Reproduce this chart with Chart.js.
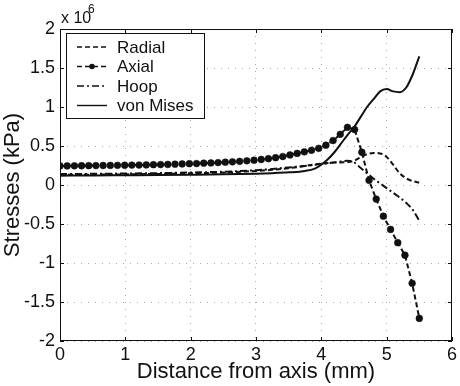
<!DOCTYPE html>
<html>
<head>
<meta charset="utf-8">
<script src="https://cdn.jsdelivr.net/npm/chart.js@4.4.1/dist/chart.umd.min.js"></script>
<style>
  html, body { margin: 0; padding: 0; background: #fff; }
  #wrap { width: 460px; height: 386px; position: relative; }
</style>
</head>
<body>
<div id="wrap"><canvas id="chartTegangan"></canvas></div>
<script>
// ===== DATA (stresses in units of 10^6 kPa) =====
const seriesLabels = ["Radial", "Axial", "Hoop", "von Mises"];
const xTicks = [0, 1, 2, 3, 4, 5, 6];
const yTicks = [-2, -1.5, -1, -0.5, 0, 0.5, 1, 1.5, 2];

const axialX = [0, 0.11, 0.22, 0.33, 0.44, 0.55, 0.66, 0.77, 0.88, 0.99,
  1.1, 1.21, 1.32, 1.43, 1.54, 1.65, 1.76, 1.87, 1.98, 2.09,
  2.2, 2.31, 2.42, 2.53, 2.64, 2.75, 2.86, 2.97, 3.08, 3.19,
  3.3, 3.41, 3.52, 3.63, 3.74, 3.85, 3.96, 4.07, 4.18, 4.29,
  4.4, 4.51, 4.62, 4.73, 4.84, 4.95, 5.06, 5.17, 5.28, 5.39, 5.5];
const axialY = [0.245, 0.245, 0.246, 0.247, 0.248, 0.249, 0.25, 0.251, 0.252, 0.253,
  0.255, 0.256, 0.258, 0.26, 0.262, 0.264, 0.267, 0.27, 0.273, 0.275,
  0.28, 0.283, 0.287, 0.292, 0.297, 0.303, 0.31, 0.318, 0.327, 0.337,
  0.35, 0.365, 0.385, 0.405, 0.425, 0.445, 0.47, 0.51, 0.57, 0.65,
  0.74, 0.71, 0.42, 0.06, -0.18, -0.4, -0.57, -0.74, -0.9, -1.26, -1.71];

const lineX = [0, 0.5, 1, 1.5, 2, 2.5, 3, 3.25, 3.5, 3.75, 3.9, 4.0, 4.1, 4.2,
  4.3, 4.4, 4.5, 4.6, 4.7, 4.8, 4.9, 5.0, 5.1, 5.2, 5.3, 5.4, 5.5];
const radialY = [0.13, 0.133, 0.137, 0.142, 0.15, 0.16, 0.18, 0.195, 0.215, 0.245, 0.265, 0.275, 0.283, 0.288,
  0.29, 0.292, 0.31, 0.355, 0.395, 0.41, 0.405, 0.36, 0.26, 0.15, 0.085, 0.05, 0.03];
const hoopY = [0.14, 0.143, 0.147, 0.152, 0.16, 0.17, 0.19, 0.205, 0.225, 0.245, 0.258, 0.268, 0.278, 0.29,
  0.3, 0.31, 0.29, 0.22, 0.15, 0.08, 0.02, -0.04, -0.1, -0.16, -0.23, -0.32, -0.46];
const vonMisesY = [0.12, 0.122, 0.125, 0.128, 0.132, 0.137, 0.145, 0.152, 0.162, 0.18, 0.21, 0.26, 0.33, 0.42,
  0.53, 0.64, 0.74, 0.87, 1.0, 1.1, 1.2, 1.23, 1.2, 1.19, 1.25, 1.42, 1.65];

const FONT = "'Liberation Sans', Arial, sans-serif";
const INK = "#111";

function pasang(xs, ys) {
  return xs.map((x, i) => ({ x, y: ys[i] }));
}

const gaya = [
  { dash: [5, 3], point: false },
  { dash: [5, 3], point: true },
  { dash: [7, 3, 2, 3], point: false },
  { dash: [], point: false }
];

const datasets = [
  { label: seriesLabels[0], data: pasang(lineX, radialY), borderDash: gaya[0].dash, pointRadius: 0, cubicInterpolationMode: "monotone" },
  { label: seriesLabels[1], data: pasang(axialX, axialY), borderDash: gaya[1].dash, pointRadius: 3.4, tension: 0,
    pointBackgroundColor: INK, pointBorderColor: INK, pointBorderWidth: 0.5 },
  { label: seriesLabels[2], data: pasang(lineX, hoopY), borderDash: gaya[2].dash, pointRadius: 0, cubicInterpolationMode: "monotone" },
  { label: seriesLabels[3], data: pasang(lineX, vonMisesY), borderDash: gaya[3].dash, pointRadius: 0, cubicInterpolationMode: "monotone" }
].map(d => Object.assign({ showLine: true, borderColor: INK, backgroundColor: INK, borderWidth: 2, fill: false }, d));

// ===== FRAME, INWARD TICKS, LEGEND, x10^6 =====
const hiasan = {
  id: "hiasan",
  afterDraw(chart) {
    const { ctx, chartArea: a, scales } = chart;
    ctx.save();
    ctx.strokeStyle = INK;
    ctx.lineWidth = 1;
    ctx.setLineDash([]);
    ctx.strokeRect(a.left + 0.5, a.top + 0.5, a.right - a.left - 1, a.bottom - a.top - 1);
    ctx.beginPath();
    xTicks.forEach(v => {
      const px = Math.round(scales.x.getPixelForValue(v)) + 0.5;
      ctx.moveTo(px, a.bottom); ctx.lineTo(px, a.bottom - 4);
      ctx.moveTo(px, a.top); ctx.lineTo(px, a.top + 4);
    });
    yTicks.forEach(v => {
      const py = Math.round(scales.y.getPixelForValue(v)) + 0.5;
      ctx.moveTo(a.left, py); ctx.lineTo(a.left + 4, py);
      ctx.moveTo(a.right, py); ctx.lineTo(a.right - 4, py);
    });
    ctx.stroke();

    // exponent label
    ctx.fillStyle = INK;
    ctx.textBaseline = "alphabetic";
    ctx.textAlign = "left";
    ctx.font = "16px " + FONT;
    ctx.fillText("x 10", a.left + 1, 23);
    ctx.font = "12px " + FONT;
    ctx.fillText("6", a.left + 28, 13);

    // legend
    const bx = 66, by = 33, bw = 138, bh = 85;
    ctx.fillStyle = "#fff";
    ctx.fillRect(bx, by, bw, bh);
    ctx.strokeStyle = INK;
    ctx.strokeRect(bx + 0.5, by + 0.5, bw, bh);
    ctx.font = "17px " + FONT;
    ctx.textBaseline = "middle";
    chart.data.datasets.forEach((ds, i) => {
      const y = by + 14 + i * 19.5;
      ctx.beginPath();
      ctx.setLineDash(ds.borderDash);
      ctx.lineWidth = 1.4;
      ctx.moveTo(bx + 11, y);
      ctx.lineTo(bx + 41, y);
      ctx.stroke();
      ctx.setLineDash([]);
      if (ds.pointRadius > 0) {
        ctx.beginPath();
        ctx.arc(bx + 26, y, 2.8, 0, Math.PI * 2);
        ctx.fillStyle = INK;
        ctx.fill();
      }
      ctx.fillStyle = INK;
      ctx.fillText(ds.label, bx + 51, y + 1);
    });
    ctx.restore();
  }
};

const chartTeganganCtx = document.getElementById("chartTegangan");
new Chart(chartTeganganCtx, {
  type: "scatter",
  data: { datasets },
  options: {
    responsive: true,
    maintainAspectRatio: false,
    animation: false,
    layout: { padding: { top: 29, right: 3, left: 0, bottom: 0 } },
    plugins: { legend: { display: false }, tooltip: { enabled: false } },
    scales: {
      x: {
        type: "linear",
        min: 0, max: 6,
        afterBuildTicks: s => { s.ticks = xTicks.map(v => ({ value: v })); },
        afterFit: s => { s.height = 45; },
        ticks: { color: INK, font: { family: FONT, size: 18 }, padding: 3, maxRotation: 0 },
        grid: { color: "#aaa", drawTicks: false },
        border: { display: false, dash: [1, 6] },
        title: { display: true, text: "Distance from axis (mm)", color: INK,
          font: { family: FONT, size: 22 }, padding: { top: 0, bottom: 1 } }
      },
      y: {
        type: "linear",
        min: -2, max: 2,
        afterBuildTicks: s => { s.ticks = yTicks.map(v => ({ value: v })); },
        afterFit: s => { s.width = 60; },
        ticks: { color: INK, font: { family: FONT, size: 18 }, padding: 5, callback: v => String(v) },
        grid: { color: "#aaa", drawTicks: false },
        border: { display: false, dash: [1, 6] },
        title: { display: true, text: "Stresses (kPa)", color: INK,
          font: { family: FONT, size: 22 }, padding: { top: 0, bottom: 0 } }
      }
    }
  },
  plugins: [hiasan]
});
</script>
</body>
</html>
